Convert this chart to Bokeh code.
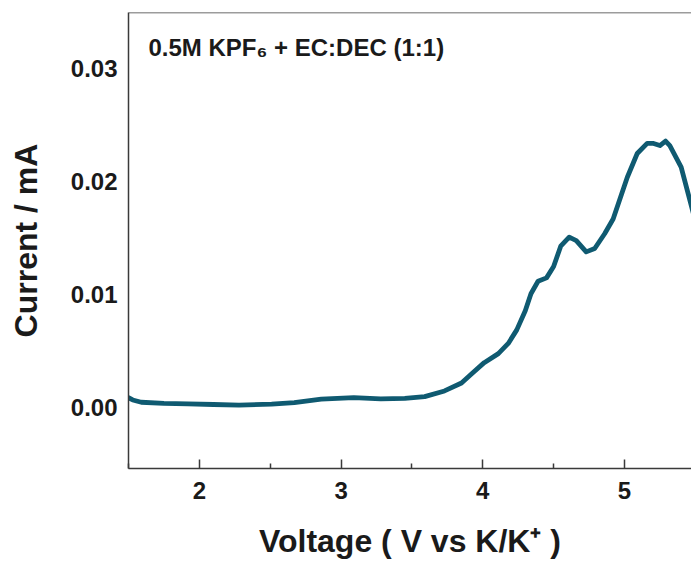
from bokeh.plotting import figure
from bokeh.models import FixedTicker, NumeralTickFormatter, Span, Label
from bokeh.embed import file_html
from bokeh.resources import INLINE

# ---- data ----
voltage = [1.50, 1.53, 1.59, 1.75, 1.92, 2.10, 2.28, 2.51, 2.67, 2.86, 3.09, 3.28,
           3.45, 3.59, 3.73, 3.85, 3.92, 4.01, 4.11, 4.18, 4.24, 4.30, 4.34, 4.39,
           4.45, 4.50, 4.55, 4.61, 4.66, 4.73, 4.79, 4.86, 4.92, 5.02, 5.09, 5.16,
           5.20, 5.25, 5.29, 5.32, 5.40, 5.48, 5.52]
current = [0.0009, 0.0007, 0.0005, 0.0004, 0.00035, 0.0003, 0.00024, 0.00033, 0.00047,
           0.00077, 0.00091, 0.0008, 0.00085, 0.0010, 0.0015, 0.0022, 0.0030, 0.0040,
           0.0048, 0.0057, 0.0069, 0.0086, 0.0101, 0.0112, 0.0115, 0.0125, 0.0143,
           0.0151, 0.0148, 0.0138, 0.0141, 0.0154, 0.0167, 0.0204, 0.0225, 0.0234,
           0.0234, 0.0232, 0.0236, 0.0232, 0.0213, 0.0175, 0.0155]

x_ticks = [2, 3, 4, 5]
x_minor_ticks = [1.5, 2.5, 3.5, 4.5]
y_ticks = [0.00, 0.01, 0.02, 0.03]
x_start, x_end = 1.5, 5.473
y_start, y_end = -0.00536, 0.03497

title_text = "0.5M KPF\u2086 + EC:DEC (1:1)"
x_label = "Voltage ( V vs K/K\u207a )"
y_label = "Current / mA"

FONT = "Liberation Sans"
AX = "#3a3a3a"
TXT = "#1a1a1a"

p = figure(width=691, height=561, x_range=(x_start, x_end), y_range=(y_start, y_end),
           output_backend="svg", toolbar_location=None,
           min_border_left=128, min_border_right=0, min_border_top=12, min_border_bottom=92)
p.outline_line_color = None
p.grid.visible = False
p.background_fill_color = "white"
p.border_fill_color = "white"

p.line(voltage, current, line_color="#0f5a71", line_width=4.8, line_join="round", line_cap="round")

# x axis
xa = p.xaxis[0]
xa.ticker = FixedTicker(ticks=x_ticks, minor_ticks=x_minor_ticks)
xa.axis_line_color = AX
xa.axis_line_width = 1.5
xa.major_tick_in = 9
xa.major_tick_out = 0
xa.minor_tick_in = 5
xa.minor_tick_out = 0
xa.major_tick_line_color = AX
xa.minor_tick_line_color = AX
xa.major_tick_line_width = 1.5
xa.minor_tick_line_width = 1.5
xa.major_label_text_font = FONT
xa.major_label_text_font_style = "bold"
xa.major_label_text_font_size = "24px"
xa.major_label_text_color = TXT
xa.major_label_standoff = 13
xa.axis_label = x_label
xa.axis_label_text_font = FONT
xa.axis_label_text_font_style = "bold"
xa.axis_label_text_font_size = "32px"
xa.axis_label_text_color = TXT
xa.axis_label_standoff = 21

# y axis
ya = p.yaxis[0]
ya.ticker = FixedTicker(ticks=y_ticks)
ya.formatter = NumeralTickFormatter(format="0.00")
ya.axis_line_color = AX
ya.axis_line_width = 1.5
ya.major_tick_line_color = None
ya.minor_tick_line_color = None
ya.major_tick_in = 0
ya.major_tick_out = 0
ya.major_label_text_font = FONT
ya.major_label_text_font_style = "bold"
ya.major_label_text_font_size = "24px"
ya.major_label_text_color = TXT
ya.major_label_standoff = 11
ya.axis_label = y_label
ya.axis_label_text_font = FONT
ya.axis_label_text_font_style = "bold"
ya.axis_label_text_font_size = "32px"
ya.axis_label_text_color = TXT
ya.axis_label_standoff = 24

# top border
p.add_layout(Span(location=y_end, dimension="width", line_color=AX, line_width=1.5))

# in-plot title
p.add_layout(Label(x=20, y=420.7, x_units="screen", y_units="screen", text=title_text,
                   text_font=FONT, text_font_style="bold", text_font_size="24px",
                   text_color=TXT, text_baseline="alphabetic"))

open("out.html", "w").write(file_html(p, INLINE))
